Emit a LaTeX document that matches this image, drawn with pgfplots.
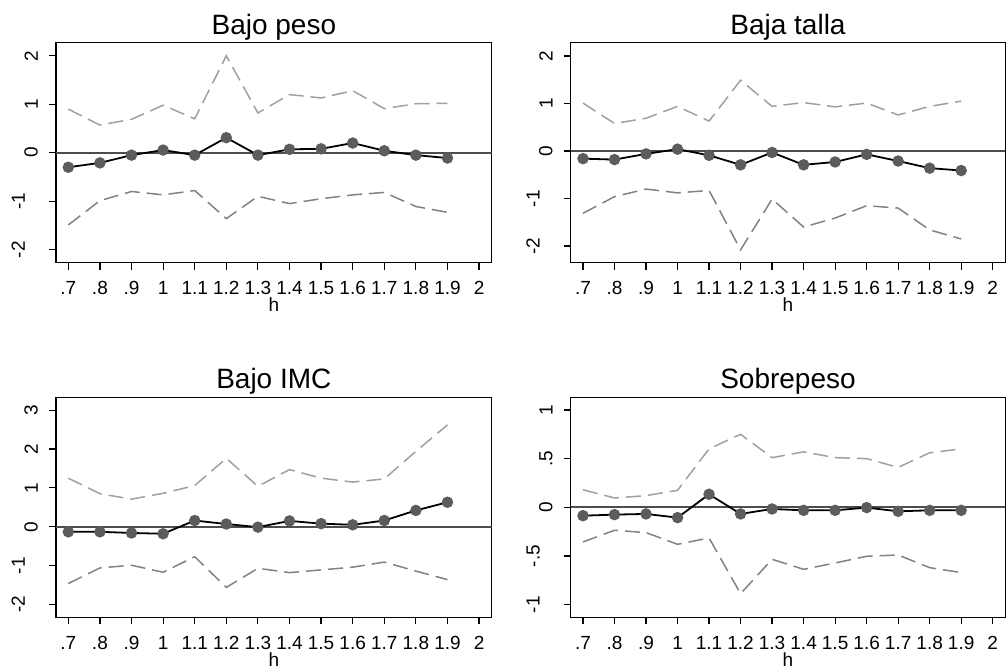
\documentclass[border=0pt]{standalone}
\usepackage{pgfplots}
\pgfplotsset{compat=1.18}
\usepackage{fontspec}
\setmainfont{Liberation Sans}

\definecolor{upgray}{HTML}{A0A0A0}
\definecolor{logray}{HTML}{828282}
\definecolor{ptgray}{HTML}{5C5C5C}
\definecolor{zerogray}{HTML}{4D4D4D}

% estimates and bounds, one table per panel
\pgfplotstableread{
h   est    up     lo
0.7 -0.30  0.90  -1.49
0.8 -0.21  0.57  -0.99
0.9 -0.05  0.69  -0.80
1.0  0.055 0.98  -0.87
1.1 -0.05  0.70  -0.78
1.2  0.31  2.00  -1.36
1.3 -0.05  0.82  -0.90
1.4  0.07  1.20  -1.05
1.5  0.08  1.13  -0.95
1.6  0.20  1.28  -0.87
1.7  0.04  0.91  -0.82
1.8 -0.05  1.01  -1.11
1.9 -0.11  1.02  -1.23
}\bajopeso
\pgfplotstableread{
h   est    up     lo
0.7 -0.16  1.01  -1.31
0.8 -0.18  0.58  -0.96
0.9 -0.06  0.69  -0.80
1.0  0.04  0.94  -0.88
1.1 -0.09  0.63  -0.83
1.2 -0.29  1.49  -2.08
1.3 -0.03  0.94  -1.01
1.4 -0.29  1.02  -1.60
1.5 -0.23  0.93  -1.41
1.6 -0.07  1.01  -1.15
1.7 -0.21  0.76  -1.20
1.8 -0.36  0.94  -1.66
1.9 -0.41  1.05  -1.85
}\bajatalla
\pgfplotstableread{
h   est    up     lo
0.7 -0.13  1.25  -1.46
0.8 -0.13  0.85  -1.06
0.9 -0.16  0.71  -0.99
1.0 -0.18  0.86  -1.17
1.1  0.16  1.06  -0.77
1.2  0.07  1.76  -1.56
1.3 -0.01  1.04  -1.07
1.4  0.15  1.47  -1.18
1.5  0.08  1.25  -1.11
1.6  0.05  1.15  -1.04
1.7  0.16  1.23  -0.91
1.8  0.42  1.94  -1.14
1.9  0.63  2.62  -1.36
}\bajoimc
\pgfplotstableread{
h   est     up     lo
0.7 -0.086  0.18  -0.356
0.8 -0.075  0.096 -0.236
0.9 -0.068  0.12  -0.26
1.0 -0.106  0.175 -0.38
1.1  0.134  0.60  -0.315
1.2 -0.068  0.75  -0.887
1.3 -0.017  0.51  -0.534
1.4 -0.031  0.57  -0.637
1.5 -0.031  0.51  -0.572
1.6 -0.003  0.50  -0.503
1.7 -0.041  0.41  -0.49
1.8 -0.031  0.56  -0.62
1.9 -0.031  0.60  -0.67
}\sobrepeso

\pgfplotsset{
  panel/.style={
    scale only axis, width=217.85pt, height=110pt,
    xmin=0.661, xmax=2.04,
    xtick={0.7,0.8,0.9,1,1.1,1.2,1.3,1.4,1.5,1.6,1.7,1.8,1.9,2},
    xticklabels={.7,.8,.9,1,1.1,1.2,1.3,1.4,1.5,1.6,1.7,1.8,1.9,2},
    tick pos=left, tick align=outside, major tick length=3.5pt,
    tick style={black, line width=0.6pt},
    axis line style={black, line width=0.75pt},
    ticklabel style={font=\fontsize{9.5}{10}\selectfont},
    xticklabel style={anchor=base, yshift=-12.5pt},
    yticklabel style={xshift=-2pt, rotate=90, anchor=south},
    xlabel={h},
    xlabel style={font=\fontsize{9.5}{10}\selectfont, at={(axis description cs:0.5,0)}, anchor=base, yshift=-24.5pt},
    title style={font=\fontsize{14}{16}\selectfont, at={(axis description cs:0.5,1)}, anchor=base, yshift=-1.75pt},
  },
  zero/.style={zerogray, line width=0.9pt, forget plot},
  upper/.style={upgray, line width=0.75pt, dash pattern=on 7.5pt off 3.5pt},
  lower/.style={logray, line width=0.75pt, dash pattern=on 7.5pt off 3.5pt},
  est/.style={black, line width=0.9pt, mark=*, mark size=2.4pt, mark options={solid, fill=ptgray, draw=ptgray}},
}

\begin{document}
\begin{tikzpicture}
\useasboundingbox (0,0) rectangle (503pt,-335.5pt);

\begin{axis}[panel, at={(28pt,-21.35pt)}, anchor=north west,
  title={Bajo peso}, ymin=-2.27, ymax=2.27,
  ytick={-2,-1,0,1,2},
  yticklabels={\raisebox{6.5pt}{-2},\raisebox{6.5pt}{-1},0,1,2}]
\addplot[zero] coordinates {(0.661,0) (2.04,0)};
\addplot[upper] table[x=h, y=up] {\bajopeso};
\addplot[lower] table[x=h, y=lo] {\bajopeso};
\addplot[est] table[x=h, y=est] {\bajopeso};
\end{axis}

\begin{axis}[panel, at={(285.35pt,-21.35pt)}, anchor=north west, width=217.3pt,
  title={Baja talla}, ymin=-2.35, ymax=2.28,
  ytick={-2,-1,0,1,2},
  yticklabels={\raisebox{6.5pt}{-2},\raisebox{6.5pt}{-1},0,1,2}]
\addplot[zero] coordinates {(0.661,0) (2.04,0)};
\addplot[upper] table[x=h, y=up] {\bajatalla};
\addplot[lower] table[x=h, y=lo] {\bajatalla};
\addplot[est] table[x=h, y=est] {\bajatalla};
\end{axis}

\begin{axis}[panel, at={(28pt,-198.65pt)}, anchor=north west,
  title={Bajo IMC}, ymin=-2.33, ymax=3.33,
  ytick={-2,-1,0,1,2,3},
  yticklabels={\raisebox{6.5pt}{-2},\raisebox{6.5pt}{-1},0,1,2,3}]
\addplot[zero] coordinates {(0.661,0) (2.04,0)};
\addplot[upper] table[x=h, y=up] {\bajoimc};
\addplot[lower] table[x=h, y=lo] {\bajoimc};
\addplot[est] table[x=h, y=est] {\bajoimc};
\end{axis}

\begin{axis}[panel, at={(285.35pt,-198.65pt)}, anchor=north west, width=217.3pt,
  title={Sobrepeso}, ymin=-1.13, ymax=1.13,
  ytick={-1,-0.5,0,0.5,1},
  yticklabels={\raisebox{6.5pt}{-1},\raisebox{6.5pt}{-.5},0,.5,1}]
\addplot[zero] coordinates {(0.661,0) (2.04,0)};
\addplot[upper] table[x=h, y=up] {\sobrepeso};
\addplot[lower] table[x=h, y=lo] {\sobrepeso};
\addplot[est] table[x=h, y=est] {\sobrepeso};
\end{axis}
\end{tikzpicture}
\end{document}
